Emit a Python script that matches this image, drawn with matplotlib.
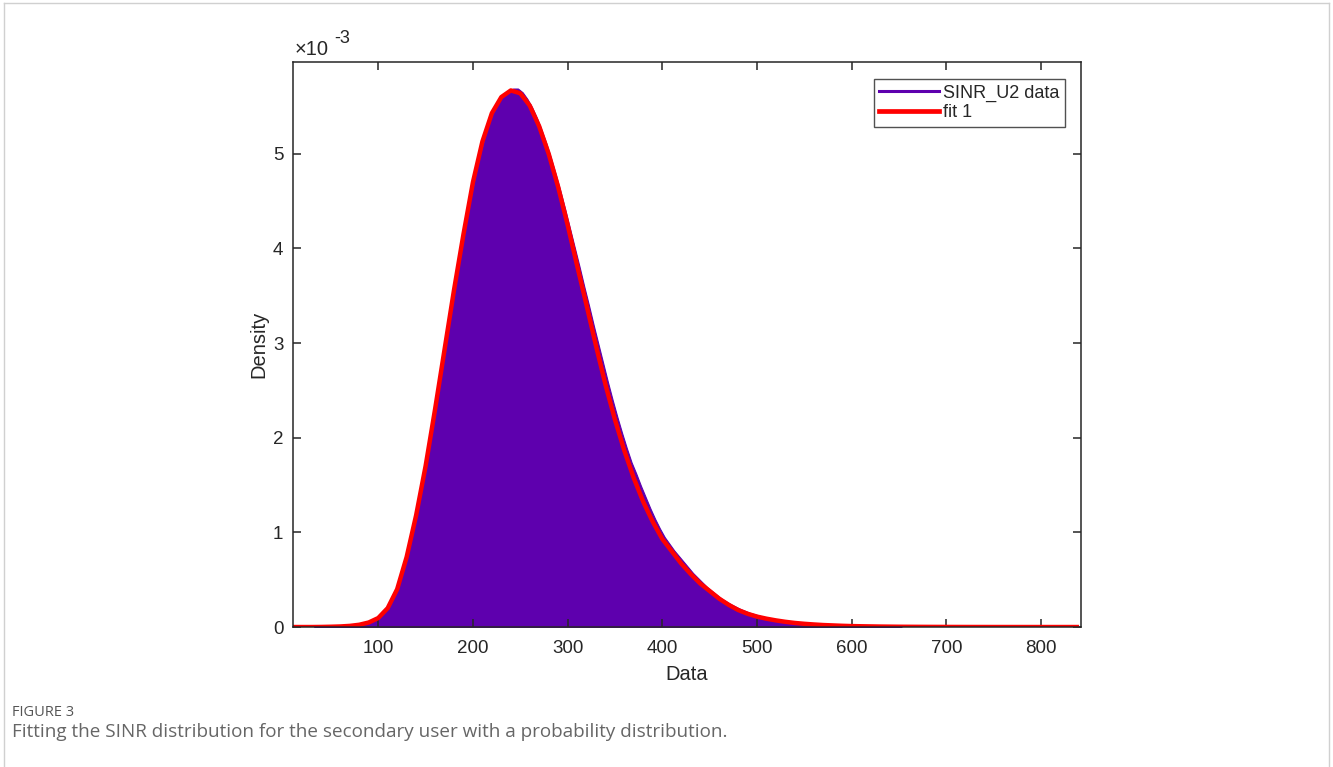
import numpy as np
import matplotlib.pyplot as plt
from matplotlib.lines import Line2D

# histogram of SINR_U2 (density in units of 1e-3), bins of width 5 starting at 30
bin_start = 30
bin_width = 5
hist_vals = [
    0.000, 0.001, 0.001, 0.002, 0.003, 0.005, 0.007, 0.010, 0.015, 0.021,   # 30-75
    0.030, 0.042, 0.060, 0.085, 0.12, 0.16, 0.24, 0.35, 0.49, 0.66,        # 80-125
    0.86, 1.07, 1.30, 1.55, 1.82, 2.11, 2.42, 2.73, 3.04, 3.35,            # 130-175
    3.66, 3.95, 4.24, 4.51, 4.76, 4.98, 5.17, 5.33, 5.46, 5.56,            # 180-225
    5.63, 5.67, 5.69, 5.69, 5.65, 5.58, 5.49, 5.38, 5.25, 5.11,            # 230-275
    4.95, 4.78, 4.60, 4.41, 4.21, 4.01, 3.81, 3.60, 3.40, 3.19,            # 280-325
    2.99, 2.79, 2.59, 2.40, 2.22, 2.05, 1.89, 1.74, 1.62, 1.49,            # 330-375
    1.37, 1.25, 1.14, 1.04, 0.95, 0.88, 0.81, 0.75, 0.69, 0.63,            # 380-425
    0.57, 0.52, 0.47, 0.42, 0.38, 0.34, 0.30, 0.27, 0.24, 0.215,           # 430-475
    0.19, 0.17, 0.15, 0.135, 0.12, 0.105, 0.094, 0.083, 0.073, 0.065,      # 480-525
    0.057, 0.050, 0.044, 0.039, 0.034, 0.030, 0.026, 0.023, 0.020, 0.018,  # 530-575
    0.016, 0.014, 0.012, 0.010, 0.009, 0.008, 0.007, 0.006, 0.005, 0.004,  # 580-625
    0.004, 0.003, 0.003, 0.002, 0.002,                                      # 630-650
]

# fitted pdf (units of 1e-3), sampled every 10 starting at 10
fit_start = 10
fit_step = 10
fit_vals = [
    0.0, 0.0, 0.0, 0.001, 0.003, 0.006, 0.012, 0.024, 0.048, 0.095,       # 10-100
    0.20, 0.40, 0.74, 1.18, 1.70, 2.30, 2.93, 3.56, 4.15, 4.70,           # 110-200
    5.13, 5.43, 5.60, 5.67, 5.64, 5.51, 5.29, 5.00, 4.65, 4.25,           # 210-300
    3.82, 3.40, 2.97, 2.56, 2.19, 1.86, 1.57, 1.32, 1.11, 0.93,           # 310-400
    0.80, 0.67, 0.56, 0.46, 0.38, 0.30, 0.235, 0.18, 0.14, 0.11,          # 410-500
    0.088, 0.07, 0.055, 0.043, 0.034, 0.027, 0.021, 0.017, 0.013, 0.010,  # 510-600
    0.008, 0.0065, 0.005, 0.004, 0.003, 0.0025, 0.002, 0.0016, 0.0013, 0.001,  # 610-700
    0.0008, 0.0006, 0.0005, 0.0004, 0.0003, 0.00025, 0.0002, 0.00015, 0.0001, 0.0001,  # 710-800
    0.00008, 0.00006, 0.00005, 0.00004,                                    # 810-840
]

x_ticks = [100, 200, 300, 400, 500, 600, 700, 800]
y_ticks = [0, 1, 2, 3, 4, 5]

purple = '#5e00ae'
red = '#ff0000'
ink = '#262626'

plt.rcParams['font.family'] = ['Liberation Sans', 'DejaVu Sans']

fig = plt.figure(figsize=(13.33, 7.67), dpi=100)
ax = fig.add_axes([0.2198, 0.1825, 0.5911, 0.7366])

# histogram drawn as a filled outline through the bin centres
centres = bin_start + bin_width * (np.arange(len(hist_vals)) + 0.5)
ax.fill_between(centres, np.array(hist_vals) * 1e-3, 0, color=purple,
                linewidth=0.8, edgecolor=purple)

fit_x = fit_start + fit_step * np.arange(len(fit_vals))
ax.plot(fit_x, np.array(fit_vals) * 1e-3, color=red, linewidth=3.2,
        solid_capstyle='butt', solid_joinstyle='round')

ax.set_xlim(10, 842)
ax.set_ylim(0, 5.97e-3)
ax.set_xticks(x_ticks)
ax.set_yticks([t * 1e-3 for t in y_ticks])
ax.set_yticklabels([str(t) for t in y_ticks])

ax.tick_params(direction='in', length=6, width=1.1, colors=ink, labelsize=13.5,
               top=True, right=True)
ax.tick_params(axis='x', pad=9)
ax.tick_params(axis='y', pad=7)
for s in ax.spines.values():
    s.set_color(ink)
    s.set_linewidth(1.1)

ax.set_xlabel('Data', fontsize=14.5, color=ink, labelpad=6)
ax.set_ylabel('Density', fontsize=14.5, color=ink, labelpad=3)

# exponent label in MATLAB style
ax.text(0.002, 1.006, '×10', transform=ax.transAxes, fontsize=14.5, color=ink,
        ha='left', va='bottom')
ax.text(0.052, 1.027, '-3', transform=ax.transAxes, fontsize=13, color=ink,
        ha='left', va='bottom')

handles = [Line2D([], [], color=purple, linewidth=2.2),
           Line2D([], [], color=red, linewidth=3.4)]
leg = ax.legend(handles, ['SINR_U2 data', 'fit 1'], loc='upper right',
                bbox_to_anchor=(1065 / 1333, 1 - 79 / 767),
                bbox_transform=fig.transFigure, borderaxespad=0,
                fontsize=13, frameon=True, fancybox=False, handlelength=3.3,
                handletextpad=0.25, borderpad=0.3, labelspacing=0.15)
leg.get_frame().set_edgecolor(ink)
leg.get_frame().set_linewidth(1.0)
for t in leg.get_texts():
    t.set_color(ink)

# caption below the chart
fig.text(12 / 1333, 1 - 713 / 767, 'FIGURE 3', fontsize=10.5, color='#555555',
         family=['Open Sans', 'DejaVu Sans'], ha='left', va='center')
fig.text(12 / 1333, 1 - 732 / 767,
         'Fitting the SINR distribution for the secondary user with a probability distribution.',
         fontsize=13.6, color='#666666', family=['Open Sans', 'DejaVu Sans'],
         ha='left', va='center')

# light card border
fig.add_artist(Line2D([4 / 1333, 4 / 1333], [0, 1 - 3 / 767], color='#d0d0d0',
                      linewidth=1, transform=fig.transFigure))
fig.add_artist(Line2D([4 / 1333, 1329 / 1333], [1 - 3 / 767, 1 - 3 / 767],
                      color='#d0d0d0', linewidth=1, transform=fig.transFigure))
fig.add_artist(Line2D([1329 / 1333, 1329 / 1333], [0, 1 - 3 / 767], color='#d0d0d0',
                      linewidth=1, transform=fig.transFigure))

fig.savefig('out.png', dpi=100)
